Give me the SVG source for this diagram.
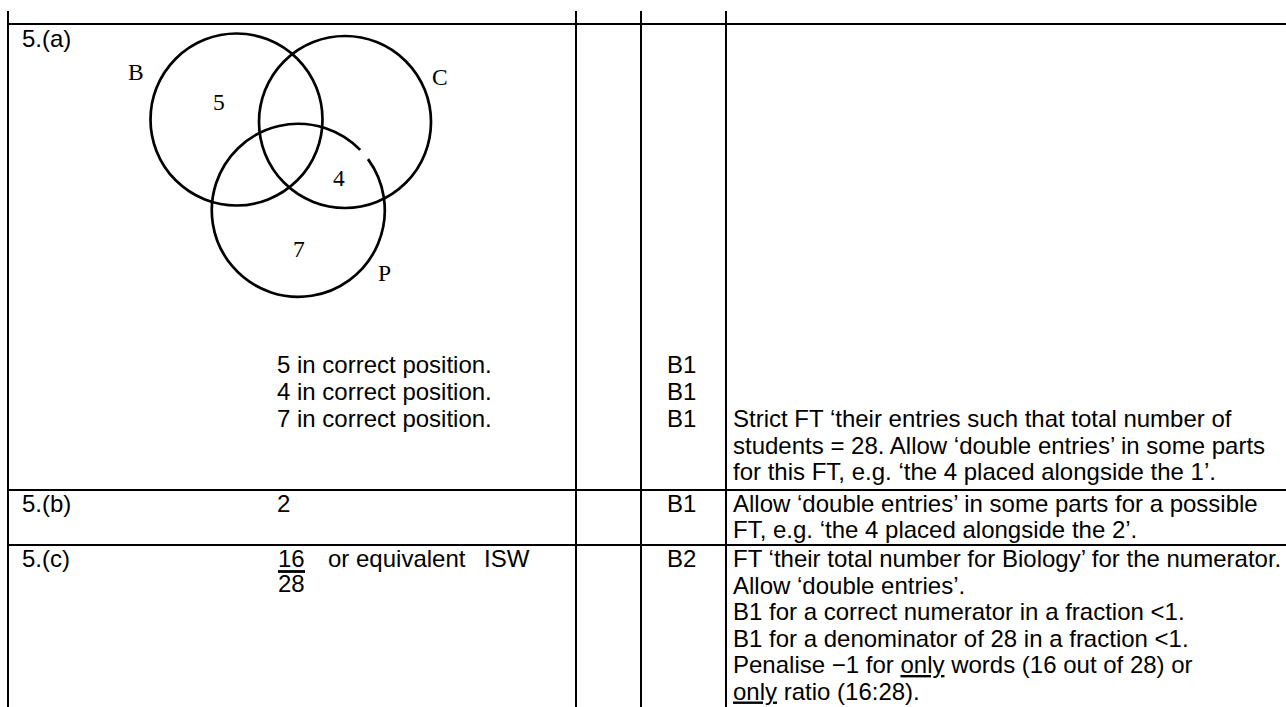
<svg xmlns="http://www.w3.org/2000/svg" width="1286" height="707" viewBox="0 0 1286 707">
<style>
.t{font-family:"Liberation Sans",Arial,sans-serif;font-size:24px;fill:#000}
.s{font-family:"Liberation Serif","Times New Roman",serif;font-size:23.5px;fill:#000}
.ln{stroke:#000;stroke-width:2;fill:none}
.c{stroke:#000;stroke-width:2.7;fill:none}
.u{text-decoration:underline}
</style>
<rect width="1286" height="707" fill="#fff"/>
<g id="grid">
<line class="ln" x1="8" y1="11" x2="8" y2="707"/>
<line class="ln" x1="576" y1="11" x2="576" y2="707"/>
<line class="ln" x1="641" y1="11" x2="641" y2="707"/>
<line class="ln" x1="726" y1="11" x2="726" y2="707"/>
<line class="ln" x1="7" y1="24" x2="1286" y2="24" stroke-width="2.6"/>
<line class="ln" x1="7" y1="490" x2="1286" y2="490"/>
<line class="ln" x1="7" y1="545" x2="1286" y2="545"/>
</g>
<g id="venn">
<circle id="circleB" class="c" cx="236.5" cy="119.5" r="86"/>
<circle id="circleC" class="c" cx="345" cy="122" r="86"/>
<path id="circleP" class="c" d="M368,159.1 A86.5,86.5 0 1 1 360.2,149.9"/>
<text class="s" x="128" y="80">B</text>
<text class="s" x="432" y="85">C</text>
<text class="s" x="378" y="281">P</text>
<text class="s" x="213" y="110">5</text>
<text class="s" x="333" y="186">4</text>
<text class="s" x="293" y="257">7</text>
</g>
<g id="row-a">
<text class="t" x="22" y="47">5.(a)</text>
<text class="t" x="277" y="373">5 in correct position.</text>
<text class="t" x="277" y="400">4 in correct position.</text>
<text class="t" x="277" y="427">7 in correct position.</text>
<text class="t" x="667" y="373">B1</text>
<text class="t" x="667" y="400">B1</text>
<text class="t" x="667" y="427">B1</text>
<text class="t" x="733" y="427">Strict FT ‘their entries such that total number of</text>
<text class="t" x="733" y="454">students = 28. Allow ‘double entries’ in some parts</text>
<text class="t" x="733" y="480">for this FT, e.g. ‘the 4 placed alongside the 1’.</text>
</g>
<g id="row-b">
<text class="t" x="22" y="512">5.(b)</text>
<text class="t" x="277" y="512">2</text>
<text class="t" x="667" y="512">B1</text>
<text class="t" x="733" y="512">Allow ‘double entries’ in some parts for a possible</text>
<text class="t" x="733" y="538">FT, e.g. ‘the 4 placed alongside the 2’.</text>
</g>
<g id="row-c">
<text class="t" x="22" y="567">5.(c)</text>
<text class="t" x="278" y="567">16</text>
<line x1="278" y1="571.5" x2="305" y2="571.5" stroke="#000" stroke-width="2.8"/>
<text class="t" x="278" y="592">28</text>
<text class="t" x="328" y="567">or equivalent</text>
<text class="t" x="484" y="567">ISW</text>
<text class="t" x="667" y="567">B2</text>
<text class="t" x="733" y="567">FT ‘their total number for Biology’ for the numerator.</text>
<text class="t" x="733" y="593.5">Allow ‘double entries’.</text>
<text class="t" x="733" y="620">B1 for a correct numerator in a fraction &lt;1.</text>
<text class="t" x="733" y="646.5">B1 for a denominator of 28 in a fraction &lt;1.</text>
<text class="t" x="733" y="673">Penalise −1 for <tspan class="u">only</tspan> words (16 out of 28) or</text>
<text class="t" x="733" y="699.5"><tspan class="u">only</tspan> ratio (16:28).</text>
</g>
</svg>
